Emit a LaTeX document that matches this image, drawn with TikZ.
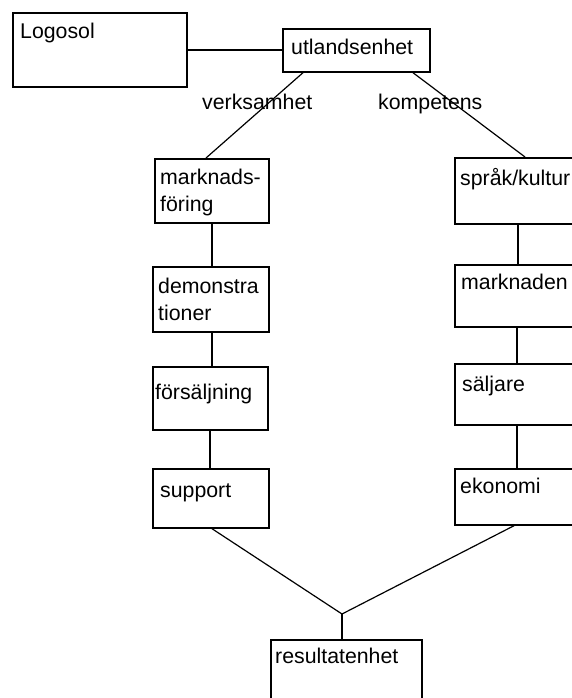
\documentclass[tikz,border=0pt]{standalone}
\usepackage{fontspec}
\setmainfont{Liberation Sans}
\usetikzlibrary{calc}
\begin{document}
\begin{tikzpicture}[x=1pt,y=-1pt,
  box/.style={draw=black, line width=1.7pt, anchor=north west, inner sep=0pt, fill=white},
  txt/.style={anchor=base west, inner sep=0pt, font=\fontsize{21.3}{27.5}\selectfont, text=black},
  mtxt/.style={txt, text width=120pt, align=left},
  conn/.style={draw=black, line width=1.7pt},
  diag/.style={draw=black, line width=1.2pt}]
\useasboundingbox (0,0) rectangle (572,698);
% boxes
\node[box, minimum width=174pt, minimum height=74pt] (logo) at (12,12) {};
\node[box, minimum width=147pt, minimum height=43pt] (ut) at (282,28) {};
\node[box, minimum width=114pt, minimum height=64pt] (mf) at (154,158) {};
\node[box, minimum width=116pt, minimum height=65pt] (dem) at (152,266) {};
\node[box, minimum width=115pt, minimum height=63pt] (fs) at (152,366) {};
\node[box, minimum width=116pt, minimum height=59pt] (sup) at (152,468) {};
\node[box, minimum width=126pt, minimum height=66pt] (sk) at (454,157) {};
\node[box, minimum width=126pt, minimum height=62pt] (mn) at (454,264) {};
\node[box, minimum width=126pt, minimum height=61pt] (sj) at (454,363) {};
\node[box, minimum width=126pt, minimum height=56pt] (ek) at (454,468) {};
\node[box, minimum width=151pt, minimum height=70pt] (res) at (270,639) {};
% texts
\node[txt] (logoT) at (20,39) {Logosol};
\node[txt] (utT) at (291,55) {utlandsenhet};
\node[mtxt] (mfT) at (160,184) {marknads-\\föring};
\node[mtxt] (demT) at (158,293) {demonstra\\tioner};
\node[txt] (fsT) at (155,399) {försäljning};
\node[txt] (supT) at (160,497) {support};
\node[txt] (skT) at (460,185) {språk/kultur};
\node[txt] (mnT) at (461,289) {marknaden};
\node[txt] (sjT) at (462,391) {säljare};
\node[txt] (ekT) at (460,493) {ekonomi};
\node[txt] (resT) at (275,663) {resultatenhet};
% connector labels
\node[txt] (verk) at (202,110) {verksamhet};
\node[txt] (komp) at (378,110) {kompetens};
% junction
\coordinate (j) at (342,614);
% connectors
\draw[conn] (logo.east |- 0,50) -- (ut.west |- 0,50);
\draw[diag] ([xshift=21pt]ut.south west) -- ([xshift=52pt]mf.north west);
\draw[diag] ([xshift=131pt]ut.south west) -- ([xshift=71pt]sk.north west);
\draw[conn] ([xshift=58pt]mf.south west) -- ([xshift=60pt]dem.north west);
\draw[conn] ([xshift=60pt]dem.south west) -- ([xshift=60pt]fs.north west);
\draw[conn] ([xshift=58pt]fs.south west) -- ([xshift=58pt]sup.north west);
\draw[conn] ([xshift=64pt]sk.south west) -- ([xshift=64pt]mn.north west);
\draw[conn] ([xshift=63pt]mn.south west) -- ([xshift=63pt]sj.north west);
\draw[conn] ([xshift=63pt]sj.south west) -- ([xshift=63pt]ek.north west);
\draw[diag] ([xshift=60pt]sup.south west) -- (j);
\draw[diag] ([xshift=60pt]ek.south west) -- (j);
\draw[conn] (j) -- (res.north -| j);
\end{tikzpicture}
\end{document}
